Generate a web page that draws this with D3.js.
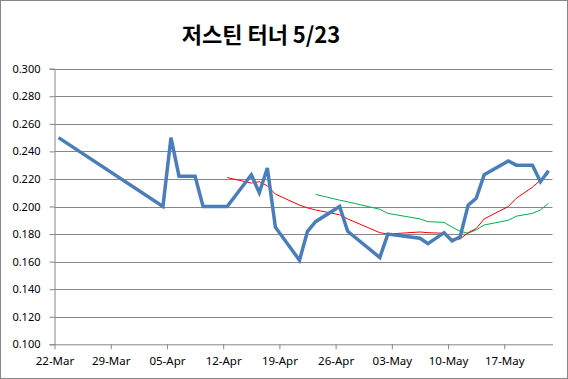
<!DOCTYPE html>
<html>
<head>
<meta charset="utf-8">
<script src="https://cdn.jsdelivr.net/npm/d3@7"></script>
<style>
  html, body { margin: 0; padding: 0; background: #fff; }
  svg { display: block; }
  text { font-family: "Noto Sans", "Open Sans", sans-serif; }
</style>
</head>
<body>
<svg id="chart" width="568" height="379"></svg>
<script>
const title = "저스틴 터너 5/23";
const yTicks = [0.100, 0.120, 0.140, 0.160, 0.180, 0.200, 0.220, 0.240, 0.260, 0.280, 0.300];
const xTickLabels = ["22-Mar", "29-Mar", "05-Apr", "12-Apr", "19-Apr", "26-Apr", "03-May", "10-May", "17-May"];
const xTickDates = ["2016-03-22", "2016-03-29", "2016-04-05", "2016-04-12", "2016-04-19", "2016-04-26", "2016-05-03", "2016-05-10", "2016-05-17"];

const avgDates = ["2016-03-22","2016-04-04","2016-04-05","2016-04-06","2016-04-08","2016-04-09","2016-04-12","2016-04-15","2016-04-16","2016-04-17","2016-04-18","2016-04-21","2016-04-22","2016-04-23","2016-04-26","2016-04-27","2016-05-01","2016-05-02","2016-05-06","2016-05-07","2016-05-09","2016-05-10","2016-05-11","2016-05-12","2016-05-13","2016-05-14","2016-05-17","2016-05-18","2016-05-20","2016-05-21","2016-05-22"];
const avgValues = [0.250,0.200,0.250,0.222,0.222,0.200,0.200,0.223,0.210,0.228,0.185,0.161,0.182,0.189,0.200,0.182,0.163,0.180,0.177,0.173,0.181,0.175,0.178,0.201,0.206,0.223,0.233,0.230,0.230,0.218,0.226];

const redDates = ["2016-04-12","2016-04-15","2016-04-16","2016-04-17","2016-04-18","2016-04-21","2016-04-22","2016-04-23","2016-04-26","2016-04-27","2016-05-01","2016-05-02","2016-05-06","2016-05-07","2016-05-09","2016-05-10","2016-05-11","2016-05-12","2016-05-13","2016-05-14","2016-05-17","2016-05-18","2016-05-20","2016-05-21","2016-05-22"];
const redValues = [0.221,0.217,0.218,0.215,0.209,0.201,0.199,0.1975,0.194,0.191,0.181,0.180,0.1815,0.181,0.1806,0.1764,0.1764,0.181,0.184,0.191,0.200,0.206,0.214,0.219,0.2236];

const greenDates = ["2016-04-23","2016-04-26","2016-04-27","2016-05-01","2016-05-02","2016-05-06","2016-05-07","2016-05-09","2016-05-10","2016-05-11","2016-05-12","2016-05-13","2016-05-14","2016-05-17","2016-05-18","2016-05-20","2016-05-21","2016-05-22"];
const greenValues = [0.2088,0.2046,0.2034,0.198,0.195,0.191,0.189,0.1885,0.185,0.182,0.1806,0.183,0.1866,0.190,0.193,0.195,0.1975,0.2023];

const parse = d3.utcParse("%Y-%m-%d");
const svg = d3.select("#chart");

const plot = { left: 54.5, right: 552.5, top: 68.7, bottom: 344.3 };

const x = d3.scaleUtc()
  .domain([parse("2016-03-22"), parse("2016-05-23")])
  .range([plot.left, plot.right]);
const y = d3.scaleLinear().domain([0.1, 0.3]).range([plot.bottom, plot.top]);

// outer frame
svg.append("rect").attr("x", 0.5).attr("y", 0.5).attr("width", 567).attr("height", 378)
  .attr("fill", "#fff").attr("stroke", "#868686").attr("stroke-width", 1);

// title
svg.append("text").attr("x", 261).attr("y", 43).attr("text-anchor", "middle")
  .style("font-family", "'Noto Sans CJK KR', 'Noto Sans', sans-serif")
  .style("font-weight", "bold").style("font-size", "22px").attr("fill", "#000")
  .text(title);

// gridlines
svg.append("g").selectAll("line").data(yTicks.slice(1)).join("line")
  .attr("x1", plot.left).attr("x2", plot.right)
  .attr("y1", d => Math.round(y(d)) + 0.5).attr("y2", d => Math.round(y(d)) + 0.5)
  .attr("stroke", "#868686").attr("stroke-width", 1);

// y axis
const yAxis = d3.axisLeft(y).tickValues(yTicks).tickFormat(d3.format(".3f")).tickSize(5).tickPadding(9);
const gy = svg.append("g").attr("transform", `translate(${plot.left},0)`).call(yAxis);
gy.select(".domain").attr("stroke", "#868686");
gy.selectAll(".tick line").attr("stroke", "#868686");
gy.selectAll(".tick text").style("font-size", "11px").attr("fill", "#000")
  .style("font-family", "'Noto Sans', sans-serif");

// x axis
const xAxis = d3.axisBottom(x).tickValues(xTickDates.map(parse))
  .tickFormat((d, i) => xTickLabels[i]).tickSize(5).tickSizeOuter(0).tickPadding(8);
const gx = svg.append("g").attr("transform", `translate(0,${plot.bottom})`).call(xAxis);
gx.select(".domain").attr("stroke", "#868686");
gx.selectAll(".tick line").attr("stroke", "#868686");
gx.selectAll(".tick text").style("font-size", "11.5px").attr("fill", "#000")
  .style("font-family", "'Noto Sans', sans-serif");

const mid = d => new Date(parse(d).getTime() + 12 * 3600 * 1000);
const line = d3.line().x(d => x(d.date)).y(d => y(d.value));

function series(dates, values) {
  return dates.map((d, i) => ({ date: mid(d), value: values[i] }));
}

svg.append("path").datum(series(greenDates, greenValues)).attr("d", line)
  .attr("fill", "none").attr("stroke", "#00b050").attr("stroke-width", 1);
svg.append("path").datum(series(redDates, redValues)).attr("d", line)
  .attr("fill", "none").attr("stroke", "#ff0000").attr("stroke-width", 1);
svg.append("path").datum(series(avgDates, avgValues)).attr("d", line)
  .attr("fill", "none").attr("stroke", "#4a7ebb").attr("stroke-width", 3.5)
  .attr("stroke-linejoin", "miter").attr("stroke-linecap", "butt");
</script>
</body>
</html>
